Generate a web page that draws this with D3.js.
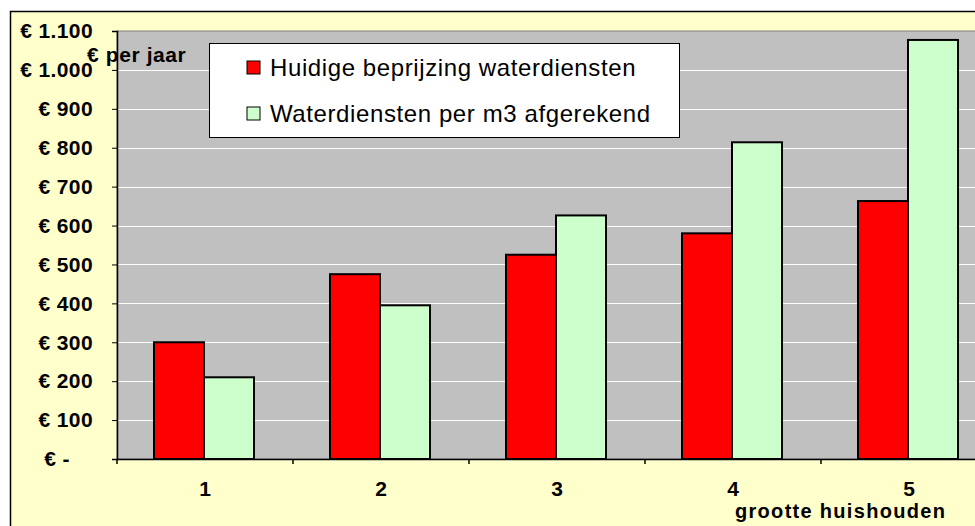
<!DOCTYPE html>
<html>
<head>
<meta charset="utf-8">
<script src="https://cdn.jsdelivr.net/npm/d3@7"></script>
<style>
  body { margin: 0; background: #fff; }
  svg { display: block; font-family: Arial, "Liberation Sans", sans-serif; }
</style>
</head>
<body>
<div class="boundary"></div>
<script>
// data
var categories = ["1", "2", "3", "4", "5"];
var seriesNames = ["Huidige beprijzing waterdiensten", "Waterdiensten per m3 afgerekend"];
var huidige = [300, 475, 525, 580, 663];
var perM3 = [210, 395, 626, 814, 1077];
var yTicks = [0, 100, 200, 300, 400, 500, 600, 700, 800, 900, 1000, 1100];
var colors = ["#ff0000", "#ccffcc"];

var width = 975, height = 526;
var svg = d3.select(".boundary").append("svg")
            .attr("width", width).attr("height", height);

// outer chart area (runs off the page on right and bottom)
svg.append("rect").attr("x", 10.5).attr("y", 11.5)
   .attr("width", 1000).attr("height", 600)
   .attr("fill", "#ffffcc").attr("stroke", "#000").attr("stroke-width", 1.5);

var plotLeft = 117, plotTop = 31, plotBottom = 459, step = 176;
var x0 = d3.scaleBand().domain(categories).range([plotLeft, plotLeft + 5 * step]).padding(0);
var x1 = d3.scaleBand().domain([0, 1]).range([0, 100]);
var y = d3.scaleLinear().domain([0, 1100]).range([plotBottom, plotTop]);

// plot area
svg.append("rect").attr("x", plotLeft).attr("y", plotTop)
   .attr("width", 5 * step).attr("height", plotBottom - plotTop)
   .attr("fill", "#c0c0c0").attr("stroke", "#808080").attr("stroke-width", 1);

// gridlines
svg.append("g").selectAll("line").data(yTicks.slice(1, -1)).enter().append("line")
   .attr("x1", plotLeft).attr("x2", plotLeft + 5 * step)
   .attr("y1", function(d){ return Math.round(y(d)) + 0.5; })
   .attr("y2", function(d){ return Math.round(y(d)) + 0.5; })
   .attr("stroke", "#fff").attr("stroke-width", 1);

// bars
var groups = svg.append("g").selectAll("g").data(categories).enter().append("g")
   .attr("transform", function(d){ return "translate(" + (x0(d) + (x0.bandwidth() - 100) / 2 - 1) + ",0)"; });
groups.selectAll("rect").data(function(d, i){ return [huidige[i], perM3[i]]; })
   .enter().append("rect")
   .attr("x", function(d, j){ return x1(j); })
   .attr("y", function(d){ return y(d); })
   .attr("width", x1.bandwidth())
   .attr("height", function(d){ return plotBottom - y(d); })
   .attr("fill", function(d, j){ return colors[j]; })
   .attr("stroke", "#000").attr("stroke-width", 2);

// y axis
var yAxis = svg.append("g").attr("transform", "translate(" + plotLeft + ",0)")
   .call(d3.axisLeft(y).tickValues(yTicks).tickSize(5).tickPadding(20)
         .tickFormat(function(d){ return d === 0 ? "€ -" : "€ " + d3.format(",")(d).replace(/,/g, "."); }));
yAxis.select(".domain").attr("stroke", "#000").attr("stroke-width", 1.5);
yAxis.selectAll(".tick line").attr("stroke", "#000");
yAxis.selectAll("text").attr("font-size", 21).attr("font-weight", "bold").attr("fill", "#000")
   .attr("font-family", "Arial, 'Liberation Sans', sans-serif")
   .attr("letter-spacing", 0.4)
   .attr("x", function(d){ return d === 0 ? -47 : -24; });

// x axis
var xAxis = svg.append("g").attr("transform", "translate(0," + plotBottom + ")")
   .call(d3.axisBottom(x0).tickSize(0).tickPadding(22));
xAxis.select(".domain").attr("stroke", "#000").attr("stroke-width", 1.5);
xAxis.selectAll("text").attr("font-size", 21).attr("font-weight", "bold").attr("fill", "#000")
   .attr("font-family", "Arial, 'Liberation Sans', sans-serif");
svg.append("g").selectAll("line").data(categories.concat(["end"])).enter().append("line")
   .attr("x1", function(d, i){ return plotLeft + i * x0.step(); })
   .attr("x2", function(d, i){ return plotLeft + i * x0.step(); })
   .attr("y1", plotBottom).attr("y2", plotBottom + 5)
   .attr("stroke", "#000").attr("stroke-width", 1.5);

// axis titles
svg.append("text").attr("x", 87).attr("y", 62).text("€ per jaar")
   .attr("font-size", 21).attr("font-weight", "bold").attr("letter-spacing", 0.6);
svg.append("text").attr("x", 735).attr("y", 518).text("grootte huishouden")
   .attr("font-size", 20).attr("font-weight", "bold").attr("letter-spacing", 1.3);

// legend
var lg = svg.append("g").attr("transform", "translate(209,43)");
lg.append("rect").attr("x", 0.5).attr("y", 0.5).attr("width", 470).attr("height", 94)
  .attr("fill", "#fff").attr("stroke", "#000").attr("stroke-width", 1);
var item = lg.selectAll(".legends").data(seriesNames).enter().append("g").classed("legends", true)
  .attr("transform", function(d, i){ return "translate(38," + (18 + i * 46) + ")"; });
item.append("rect").attr("width", 13).attr("height", 13)
  .attr("fill", function(d, i){ return colors[i]; }).attr("stroke", "#000").attr("stroke-width", 1);
item.append("text").attr("x", 23).attr("y", 15).text(function(d){ return d; })
  .attr("font-size", 24).attr("letter-spacing", 0.6).attr("fill", "#000");
</script>
</body>
</html>
